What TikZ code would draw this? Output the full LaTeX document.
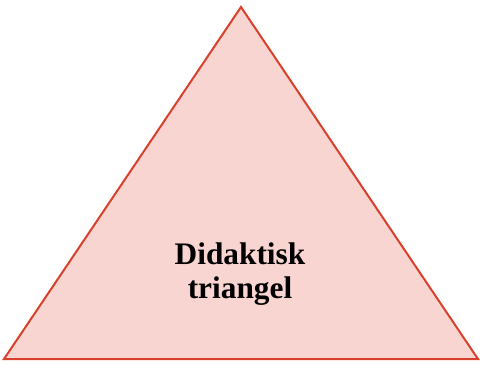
\documentclass[tikz,border=0pt]{standalone}
\usepackage{fontspec}
\setmainfont{Liberation Serif}
\usepackage{xcolor}
\usepackage{tikz}
\usetikzlibrary{positioning}

\definecolor{triFill}{HTML}{F8D5D0}
\definecolor{triLine}{HTML}{D9402B}

\begin{document}
\begin{tikzpicture}[
  x=0.75pt, y=-0.75pt,
  tri/.style={draw=triLine, fill=triFill, line width=1.5pt, line join=miter},
  label/.style={font=\bfseries\fontsize{23.5}{25}\selectfont, align=center, text=black}
]

  \useasboundingbox (0,0) rectangle (480,365);

  \coordinate (top) at (241,7);
  \coordinate (left) at (4,359);
  \coordinate (right) at (478,359);

  \path [tri] (top) -- (left) -- (right) -- cycle;

  \node [label] (title) at (240,274) {Didaktisk\\triangel};

\end{tikzpicture}
\end{document}
